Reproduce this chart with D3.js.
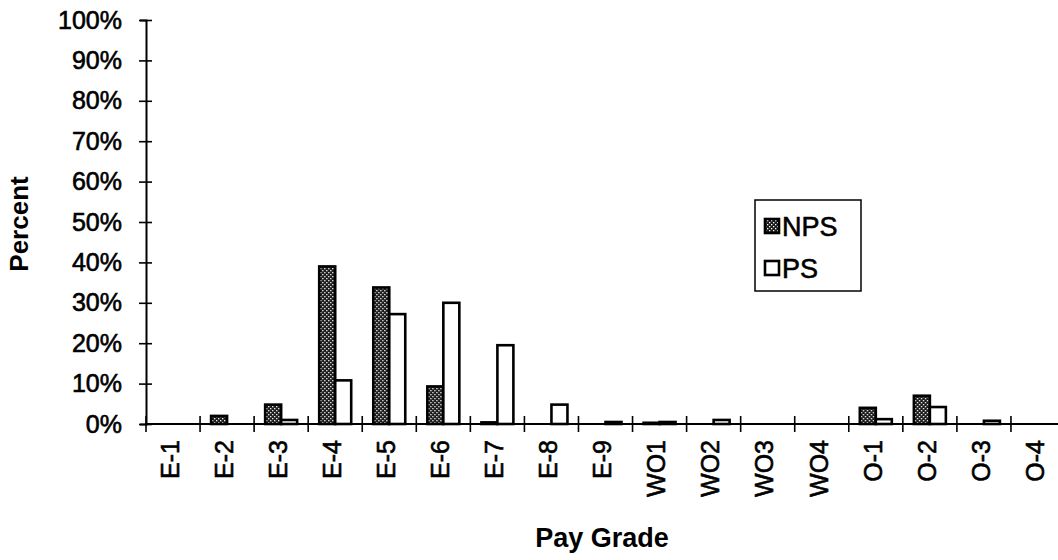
<!DOCTYPE html>
<html>
<head>
<meta charset="utf-8">
<script src="https://cdn.jsdelivr.net/npm/d3@7"></script>
<style>
  html, body { margin: 0; padding: 0; background: #fff; }
  svg { display: block; font-family: "Liberation Sans", Arial, Helvetica, sans-serif; }
  .lbl { fill: #000; stroke: #000; stroke-width: 0.6px; }
</style>
</head>
<body>
<svg id="chart" width="1058" height="560"></svg>
<script>
// Pay grade distribution, non-prior service (NPS) vs prior service (PS)
const grades = ["E-1","E-2","E-3","E-4","E-5","E-6","E-7","E-8","E-9",
                "WO1","WO2","WO3","WO4","O-1","O-2","O-3","O-4"];
const npsValues = [0, 2.0, 4.8, 39.0, 33.8, 9.3, 0.4, 0, 0, 0.3, 0, 0, 0, 4.0, 7.0, 0, 0];
const psValues  = [0, 0, 1.0, 10.8, 27.2, 30.0, 19.5, 4.8, 0.5, 0.5, 1.0, 0, 0, 1.2, 4.2, 0.8, 0];
const seriesNames = ["NPS", "PS"];
const yTicks = [0,10,20,30,40,50,60,70,80,90,100];

(function draw() {
  const svg = d3.select("#chart");
  const plotLeft = 146, plotBottom = 424, plotTop = 20;
  const step = 54.06;

  const x = d3.scaleBand().domain(grades).range([plotLeft, plotLeft + step * grades.length]).padding(0);
  const xs = d3.scaleBand().domain(seriesNames).range([0, x.bandwidth()]).paddingInner(0).paddingOuter(0.69);
  const y = d3.scaleLinear().domain([0, 100]).range([plotBottom, plotTop]);

  // dotted dark fill for NPS bars
  const defs = svg.append("defs");
  const pat = defs.append("pattern").attr("id", "stipple")
    .attr("patternUnits", "userSpaceOnUse").attr("width", 4).attr("height", 4);
  pat.append("rect").attr("width", 4).attr("height", 4).attr("fill", "#1a1a1a");
  pat.append("rect").attr("x", 0).attr("y", 0).attr("width", 1.3).attr("height", 1.3).attr("fill", "#fff");
  pat.append("rect").attr("x", 2).attr("y", 2).attr("width", 1.3).attr("height", 1.3).attr("fill", "#fff");

  const fills = { NPS: "url(#stipple)", PS: "#fff" };

  const rows = grades.map((g, i) => ({ grade: g, NPS: npsValues[i], PS: psValues[i] }));

  // bars
  const groups = svg.append("g").selectAll("g").data(rows).join("g")
    .attr("transform", d => `translate(${x(d.grade)},0)`);
  groups.selectAll("rect")
    .data(d => seriesNames.map(s => ({ s, v: d[s] })).filter(e => e.v > 0))
    .join("rect")
    .attr("x", d => xs(d.s))
    .attr("width", xs.bandwidth())
    .attr("y", d => y(d.v))
    .attr("height", d => y(0) - y(d.v))
    .attr("fill", d => fills[d.s])
    .attr("stroke", "#000")
    .attr("stroke-width", 2.6);

  // y axis
  const yAxis = d3.axisLeft(y).tickValues(yTicks).tickFormat(d => d + "%").tickSize(6).tickPadding(18);
  const yg = svg.append("g").attr("transform", `translate(${plotLeft},0)`).call(yAxis);
  yg.select(".domain").attr("stroke", "#000").attr("stroke-width", 2);
  yg.selectAll(".tick line").attr("x1", -7).attr("x2", 6).attr("stroke-width", 1.6);
  yg.selectAll(".tick text").attr("class", "lbl").attr("font-size", 25).attr("font-family", null);

  // x axis
  const xg = svg.append("g").attr("transform", `translate(0,${plotBottom})`);
  xg.append("line").attr("x1", plotLeft).attr("x2", 1058).attr("y1", 0).attr("y2", 0)
    .attr("stroke", "#000").attr("stroke-width", 2);
  xg.selectAll("line.xt").data(grades.concat(["_end"])).join("line").attr("class", "xt")
    .attr("x1", (d, i) => plotLeft + i * x.step()).attr("x2", (d, i) => plotLeft + i * x.step())
    .attr("y1", -8).attr("y2", 8).attr("stroke", "#000").attr("stroke-width", 1.6);
  xg.selectAll("text").data(grades).join("text").attr("class", "lbl")
    .attr("transform", d => `translate(${x(d) + x.bandwidth() / 2 - 3},16) rotate(-90)`)
    .attr("text-anchor", "end").attr("dy", "0.35em")
    .attr("font-size", 25).text(d => d);

  // axis titles
  svg.append("text").attr("transform", `translate(19,${(plotTop + plotBottom) / 2 + 2}) rotate(-90)`)
    .attr("text-anchor", "middle").attr("dy", "0.35em")
    .attr("font-size", 26).attr("font-weight", "bold").text("Percent");
  svg.append("text").attr("x", 602).attr("y", 547)
    .attr("text-anchor", "middle").attr("font-size", 27).attr("font-weight", "bold").text("Pay Grade");

  // legend
  const lg = svg.append("g").attr("transform", "translate(755,200)");
  lg.append("rect").attr("width", 106).attr("height", 91).attr("fill", "#fff")
    .attr("stroke", "#000").attr("stroke-width", 1.5);
  seriesNames.forEach((s, i) => {
    const row = lg.append("g").attr("transform", `translate(10,${26 + i * 42})`);
    row.append("rect").attr("x", 0).attr("y", -7).attr("width", 14).attr("height", 14)
      .attr("fill", fills[s]).attr("stroke", "#000").attr("stroke-width", 2.6);
    row.append("text").attr("class", "lbl").attr("x", 17).attr("dy", "0.36em").attr("font-size", 27).text(s);
  });
})();
</script>
</body>
</html>
